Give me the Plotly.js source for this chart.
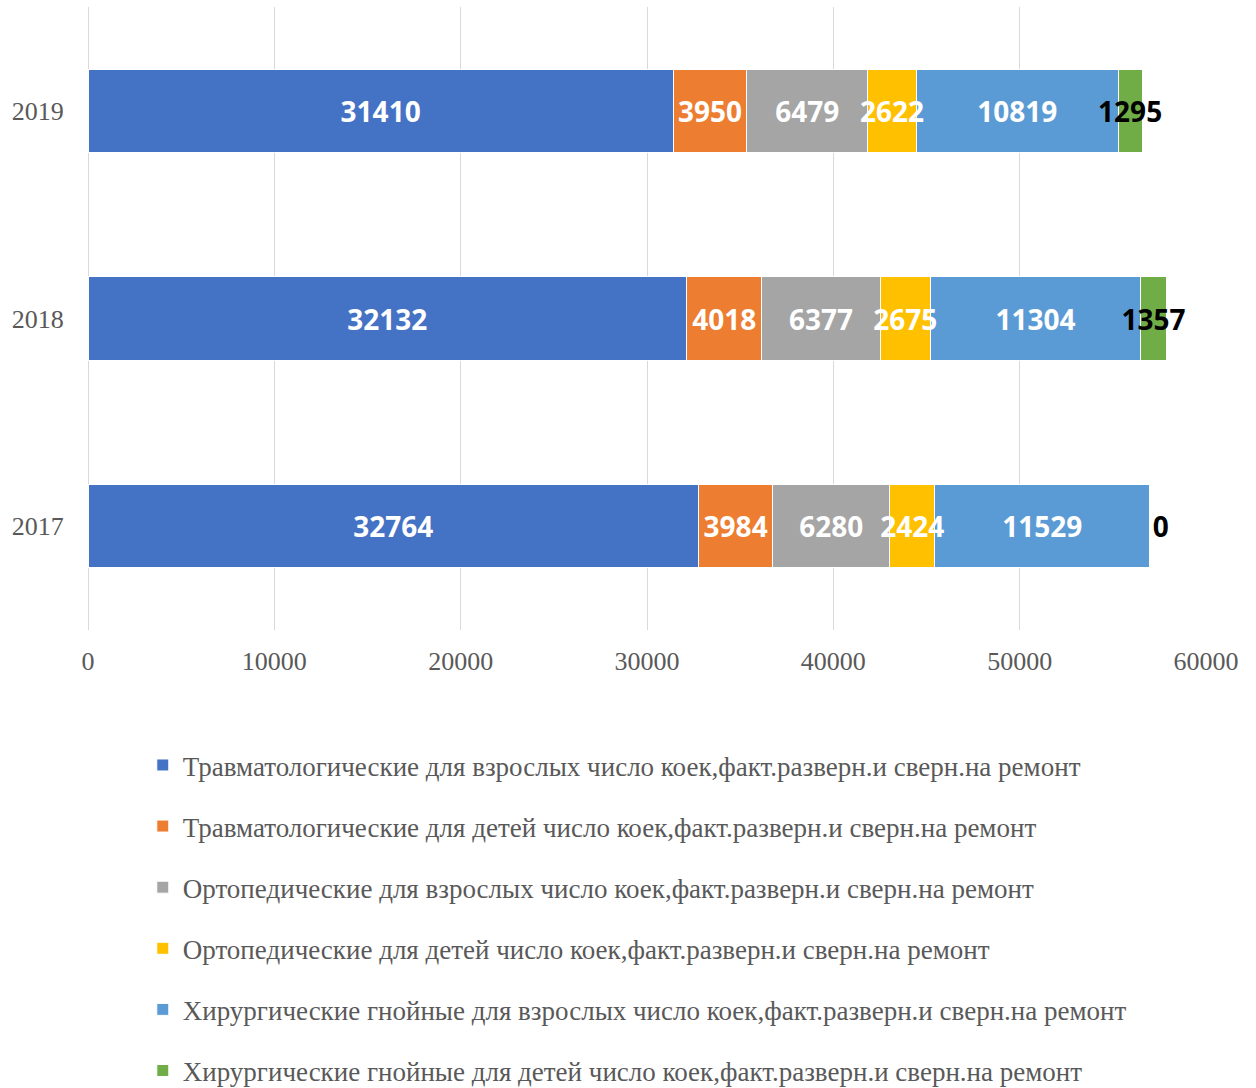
<!DOCTYPE html>
<html>
<head>
<meta charset="utf-8">
<script src="https://cdn.plot.ly/plotly-3.0.1.min.js"></script>
<style>html,body{margin:0;padding:0;background:#fff;}#chart{width:1256px;height:1088px;}</style>
</head>
<body>
<div id="chart"></div>
<script>
var years = ['2017', '2018', '2019'];
var seriesNames = [
  'Травматологические для взрослых число коек,факт.разверн.и сверн.на ремонт',
  'Травматологические для детей число коек,факт.разверн.и сверн.на ремонт',
  'Ортопедические для взрослых число коек,факт.разверн.и сверн.на ремонт',
  'Ортопедические для детей число коек,факт.разверн.и сверн.на ремонт',
  'Хирургические гнойные для взрослых число коек,факт.разверн.и сверн.на ремонт',
  'Хирургические гнойные для детей число коек,факт.разверн.и сверн.на ремонт'
];
var traumaAdults = [32764, 32132, 31410];
var traumaChildren = [3984, 4018, 3950];
var orthoAdults = [6280, 6377, 6479];
var orthoChildren = [2424, 2675, 2622];
var purulentAdults = [11529, 11304, 10819];
var purulentChildren = [0, 1357, 1295];
var xTicks = [0, 10000, 20000, 30000, 40000, 50000, 60000];

var allValues = [traumaAdults, traumaChildren, orthoAdults, orthoChildren, purulentAdults, purulentChildren];
var colors = ['#4472C4', '#ED7D31', '#A5A5A5', '#FFC000', '#5B9BD5', '#70AD47'];
var labelColors = ['#FFFFFF', '#FFFFFF', '#FFFFFF', '#FFFFFF', '#FFFFFF', '#000000'];
var labelFamily = 'Open Sans, sans-serif';
var labelSize = 28;

var traces = [];
// visible bars (with legend, no text)
allValues.forEach(function (vals, i) {
  traces.push({
    type: 'bar',
    orientation: 'h',
    name: seriesNames[i],
    legendgroup: 'g' + i,
    y: years,
    x: vals,
    marker: {color: colors[i], line: {color: '#FFFFFF', width: 1}},
    hoverinfo: 'x+name',
    xaxis: 'x',
    yaxis: 'y'
  });
});
// transparent overlay bars carrying the data labels above all bars
allValues.forEach(function (vals, i) {
  traces.push({
    type: 'bar',
    orientation: 'h',
    name: seriesNames[i],
    showlegend: false,
    y: years,
    x: vals,
    text: vals.map(function (v) { return String(v); }),
    textposition: vals.map(function (v) { return v === 0 ? 'outside' : 'inside'; }),
    insidetextanchor: 'middle',
    constraintext: 'none',
    textangle: 0,
    cliponaxis: false,
    insidetextfont: {family: labelFamily, size: labelSize, color: labelColors[i], weight: 'bold'},
    outsidetextfont: {family: labelFamily, size: labelSize, color: labelColors[i], weight: 'bold'},
    marker: {color: 'rgba(0,0,0,0)', line: {width: 0}},
    hoverinfo: 'skip',
    xaxis: 'x',
    yaxis: 'y2'
  });
});

var axisFont = {family: 'Liberation Serif, serif', size: 26, color: '#595959'};

var layout = {
  width: 1256,
  height: 1088,
  barmode: 'stack',
  bargap: 0.6,
  paper_bgcolor: '#FFFFFF',
  plot_bgcolor: '#FFFFFF',
  margin: {l: 88, r: 50, t: 7, b: 458},
  font: {family: 'Liberation Serif, serif', color: '#595959'},
  xaxis: {
    range: [0, 60000],
    tickvals: xTicks,
    tickformat: 'd',
    showgrid: true,
    gridcolor: '#D9D9D9',
    gridwidth: 1,
    zeroline: true,
    zerolinecolor: '#D9D9D9',
    zerolinewidth: 1,
    showline: false,
    ticks: 'outside',
    ticklen: 8,
    tickcolor: 'rgba(0,0,0,0)',
    tickfont: axisFont
  },
  yaxis: {
    type: 'category',
    showgrid: false,
    zeroline: false,
    showline: false,
    ticks: 'outside',
    ticklen: 18,
    tickcolor: 'rgba(0,0,0,0)',
    tickfont: axisFont
  },
  yaxis2: {
    type: 'category',
    overlaying: 'y',
    matches: 'y',
    showgrid: false,
    zeroline: false,
    showline: false,
    showticklabels: false,
    ticks: ''
  },
  showlegend: true,
  legend: {
    orientation: 'v',
    xref: 'paper',
    x: 0.049,
    xanchor: 'left',
    yref: 'container',
    y: 0.319,
    yanchor: 'top',
    traceorder: 'grouped',
    tracegroupgap: 23,
    bgcolor: 'rgba(0,0,0,0)',
    font: {family: 'Liberation Serif, serif', size: 27, color: '#595959'}
  }
};

Plotly.newPlot('chart', traces, layout, {displayModeBar: false, staticPlot: true});
</script>
</body>
</html>
